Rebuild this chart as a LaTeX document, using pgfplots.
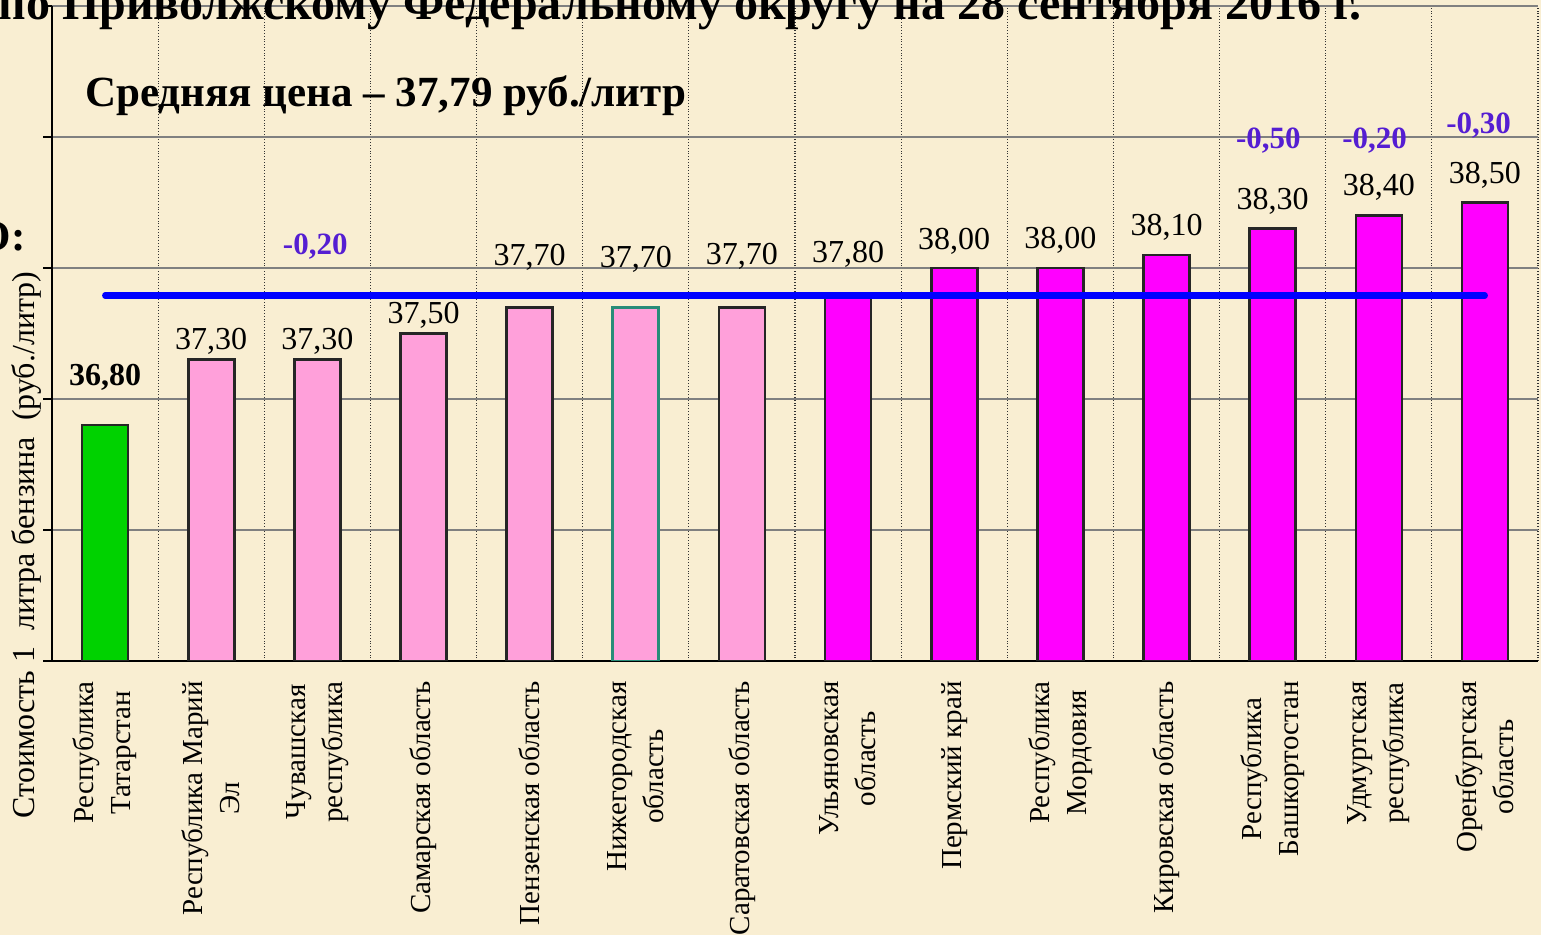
\documentclass[border=0pt]{standalone}
\usepackage{fontspec}
\setmainfont{Liberation Serif}
\usepackage{pgfplots}
\pgfplotsset{compat=1.18}
\definecolor{bg}{RGB}{249,238,210}
\definecolor{gbar}{RGB}{0,210,0}
\definecolor{pbar}{RGB}{255,160,218}
\definecolor{mbar}{RGB}{255,0,255}
\definecolor{annot}{RGB}{85,30,210}
\definecolor{gridg}{RGB}{128,128,128}
\definecolor{teal2}{RGB}{40,140,120}
\begin{document}
\begin{tikzpicture}
\useasboundingbox (0,0) rectangle (770.5pt,467.5pt);
\fill[bg] (0,0) rectangle (770.5pt,467.5pt);
\clip (0,0) rectangle (770.5pt,467.5pt);
\begin{axis}[
  at={(26pt,137pt)}, anchor=south west,
  width=743pt, height=327.5pt, scale only axis,
  xmin=-0.5, xmax=13.5, ymin=35, ymax=40,
  axis x line*=bottom, axis y line*=left,
  axis line style={black, line width=0.7pt},
  xtick={0,...,13},
  xtick style={draw=none},
  minor xtick={-0.5,0.5,...,13.5},
  xminorgrids,
  minor x grid style={black!80, densely dotted, line width=0.6pt},
  ytick={35,36,37,38,39,40},
  yticklabels={},
  ymajorgrids,
  major y grid style={gridg, line width=0.7pt},
  tick align=outside,
  major tick length=4.5pt, minor tick length=4.5pt,
  tick style={black, line width=0.7pt},
  xticklabels={{Республика\\Татарстан},{Республика Марий\\Эл},{Чувашская\\республика},{Самарская область},{Пензенская область},{Нижегородская\\область},{Саратовская область},{Ульяновская\\область},{Пермский край},{Республика\\Мордовия},{Кировская область},{Республика\\Башкортостан},{Удмуртская\\республика},{Оренбургская\\область}},
  xticklabel style={rotate=90, anchor=east, align=center, font=\fontsize{14.5}{18.5}\selectfont, inner sep=0pt},
  xticklabel shift=5.5pt,
  clip=true,
]
\addplot[ybar, bar width=23pt, bar shift=0pt, fill=gbar, draw=black!85, line width=1.3pt]
  coordinates {(0,36.8)};
\addplot[ybar, bar width=23pt, bar shift=0pt, fill=pbar, draw=black!85, line width=1.3pt]
  coordinates {(1,37.3) (2,37.3) (3,37.5) (4,37.7) (6,37.7)};
\addplot[ybar, bar width=23pt, bar shift=0pt, fill=pbar, draw=teal2, line width=1.3pt]
  coordinates {(5,37.7)};
\addplot[ybar, bar width=23pt, bar shift=0pt, fill=mbar, draw=black!85, line width=1.3pt]
  coordinates {(7,37.8) (8,38.0) (9,38.0) (10,38.1) (11,38.3) (12,38.4) (13,38.5)};
\addplot[blue, line width=3pt, line cap=round] coordinates {(0,37.79) (13,37.79)};
\begin{scope}[every node/.style={font=\fontsize{16}{19}\selectfont, inner sep=0pt}]
\node[font=\fontsize{16}{19}\selectfont\bfseries] at (axis cs:0,37.168) {36,80};
\node at (axis cs:1,37.443) {37,30};
\node at (axis cs:2,37.443) {37,30};
\node at (axis cs:3,37.641) {37,50};
\node at (axis cs:4,38.084) {37,70};
\node at (axis cs:5,38.069) {37,70};
\node at (axis cs:6,38.092) {37,70};
\node at (axis cs:7,38.107) {37,80};
\node at (axis cs:8,38.206) {38,00};
\node at (axis cs:9,38.214) {38,00};
\node at (axis cs:10,38.313) {38,10};
\node at (axis cs:11,38.511) {38,30};
\node at (axis cs:12,38.618) {38,40};
\node at (axis cs:13,38.710) {38,50};
\end{scope}
\begin{scope}[every node/.style={font=\fontsize{15.5}{18}\selectfont\bfseries, text=annot, inner sep=0pt}]
\node at (axis cs:1.98,38.160) {-0,20};
\node at (axis cs:10.96,38.969) {-0,50};
\node at (axis cs:11.96,38.969) {-0,20};
\node at (axis cs:12.94,39.084) {-0,30};
\end{scope}
\end{axis}
\node[rotate=90, font=\fontsize{16}{19}\selectfont, inner sep=0pt] at (13.5pt,195pt) {Стоимость 1\ \ литра бензина\ \ (руб./литр)};
\node[anchor=base west, font=\fontsize{21.5}{25}\selectfont\bfseries, inner sep=0pt] at (42.5pt,414pt) {Средняя цена – 37,79 руб./литр};
\node[anchor=base west, font=\fontsize{24}{28}\selectfont\bfseries, inner sep=0pt] at (-1pt,457.5pt) {по Приволжскому Федеральному округу на 28 сентября 2016 г.};
\node[anchor=base east, font=\fontsize{21.5}{25}\selectfont\bfseries, inner sep=0pt] at (13pt,342pt) {ПФО:};
\end{tikzpicture}
\end{document}
